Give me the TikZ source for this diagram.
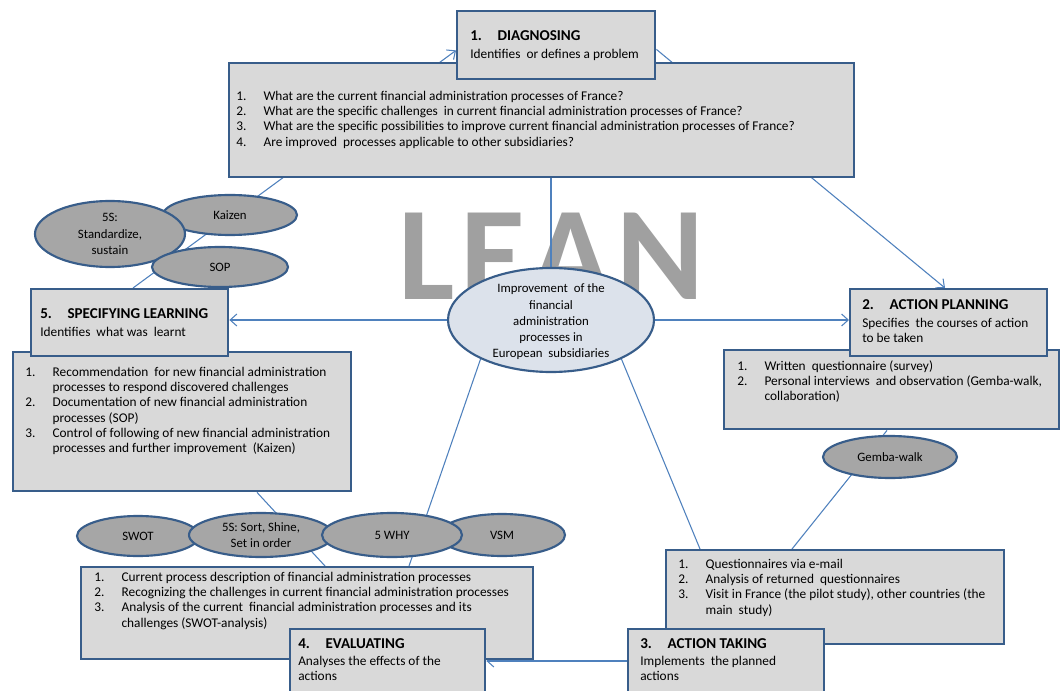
\documentclass[tikz,border=0pt]{standalone}
\usepackage{fontspec}
\setmainfont{Carlito}
\usetikzlibrary{arrows.meta,calc,shapes.geometric}
\pgfdeclarelayer{bg}
\pgfsetlayers{bg,main}

\definecolor{boxfill}{RGB}{217,217,217}
\definecolor{boxline}{RGB}{56,93,138}
\definecolor{ovalfill}{RGB}{166,166,166}
\definecolor{corefill}{RGB}{220,226,235}
\definecolor{linkblue}{RGB}{79,129,189}
\definecolor{leangray}{RGB}{160,160,160}

% numbered list helpers
\newcommand{\itm}[1]{\makebox[20.5pt][l]{#1}}
\newcommand{\blk}[1]{\begin{tabular}[t]{@{}l@{}}#1\end{tabular}}

\tikzset{
  panel/.style={rectangle, draw=boxline, line width=1.8pt, fill=boxfill, inner sep=0pt, anchor=north west},
  oval/.style={ellipse, draw=boxline, line width=1.6pt, fill=ovalfill, inner sep=0pt},
  otxt/.style={inner sep=0pt, align=center, font=\fontsize{9.6}{12.4}\selectfont},
  txt/.style={inner sep=0pt, anchor=base west, font=\fontsize{10}{11.4}\selectfont},
  head/.style={inner sep=0pt, anchor=base west, font=\fontsize{11.3}{13}\selectfont\bfseries},
  link/.style={draw=linkblue, line width=0.8pt},
  arr/.style={link, -{Straight Barb[length=5pt,width=9pt]}},
}

\begin{document}
\begin{tikzpicture}[x=0.75pt, y=-0.75pt]
\useasboundingbox (0,0) rectangle (1062,691);
\clip (0,0) rectangle (1062,691);

% 1. Diagnosing
\node[panel, minimum width={625*0.75pt}, minimum height={114*0.75pt}] (dd) at (228,62) {};
\node[txt] (dd-t) at (236,100.5) {\blk{\itm{1.}What are the current financial administration processes of France?\\
\itm{2.}What are the specific challenges\ \ in current financial administration processes of France?\\
\itm{3.}What are the specific possibilities to improve current financial administration processes of France?\\
\itm{4.}Are improved\ \ processes applicable to other subsidiaries?}};
\node[panel, minimum width={198*0.75pt}, minimum height={68*0.75pt}] (dg) at (456,10) {};
\node[head] (dg-h) at (470,41) {\itm{1.}DIAGNOSING};
\node[txt] (dg-s) at (470,59) {Identifies\ \ or defines a problem};

% 5. Specifying learning
\node[panel, minimum width={338*0.75pt}, minimum height={139*0.75pt}] (sd) at (12,351) {};
\node[txt] (sd-t) at (25,376.5) {\blk{\itm{1.}Recommendation\ \ for new financial administration\\
\itm{}processes to respond discovered challenges\\
\itm{2.}Documentation of new financial administration\\
\itm{}processes (SOP)\\
\itm{3.}Control of following of new financial administration\\
\itm{}processes and further improvement\ \ (Kaizen)}};
\node[panel, minimum width={197*0.75pt}, minimum height={67*0.75pt}] (sl) at (30,288) {};
\node[head] (sl-h) at (40,318) {\itm{5.}SPECIFYING LEARNING};
\node[txt] (sl-s) at (40,336) {Identifies\ \ what was\ \ learnt};

% 2. Action planning
\node[panel, minimum width={335*0.75pt}, minimum height={79*0.75pt}] (apd) at (723,349) {};
\node[txt] (apd-t) at (737,370.5) {\blk{\itm{1.}Written\ \ questionnaire (survey)\\
\itm{2.}Personal interviews\ \ and observation (Gemba-walk,\\
\itm{}collaboration)}};
\node[panel, minimum width={197*0.75pt}, minimum height={67*0.75pt}] (ap) at (849,288) {};
\node[head] (ap-h) at (862,310) {\itm{2.}ACTION PLANNING};
\node[txt] (ap-s) at (862,327) {\blk{Specifies\ \ the courses of action\\to be taken}};

% 3. Action taking
\node[panel, minimum width={338*0.75pt}, minimum height={94*0.75pt}] (atd) at (665,549) {};
\node[txt] (atd-t) at (678,568.5) {\blk{\itm{1.}Questionnaires via e-mail\\
\itm{2.}Analysis of returned\ \ questionnaires\\
\itm{3.}Visit in France (the pilot study), other countries (the\\
\itm{}main\ \ study)}};
\node[panel, minimum width={196*0.75pt}, minimum height={80*0.75pt}] (at) at (627,628) {};
\node[head] (at-h) at (640,648) {\itm{3.}ACTION TAKING};
\node[txt] (at-s) at (640,665) {\blk{Implements\ \ the planned\\actions}};

% 4. Evaluating
\node[panel, minimum width={452*0.75pt}, minimum height={92*0.75pt}] (ed) at (80,566) {};
\node[txt] (ed-t) at (94,581.5) {\blk{\itm{1.}Current process description of financial administration processes\\
\itm{2.}Recognizing the challenges in current financial administration processes\\
\itm{3.}Analysis of the current\ \ financial administration processes and its\\
\itm{}challenges (SWOT-analysis)}};
\node[panel, minimum width={195*0.75pt}, minimum height={80*0.75pt}] (ev) at (289,628) {};
\node[head] (ev-h) at (298,648) {\itm{4.}EVALUATING};
\node[txt] (ev-s) at (298,665) {\blk{Analyses the effects of the\\actions}};

% lean tools
\node[oval, minimum width={134*0.75pt}, minimum height={40*0.75pt}] (kz) at (230,215) {};
\node[otxt] (kz-t) at (kz) {Kaizen};
\node[oval, minimum width={150*0.75pt}, minimum height={66*0.75pt}] (s5a) at (110,234) {};
\node[otxt] (s5a-t) at (s5a) {5S:\\Standardize,\\sustain};
\node[oval, minimum width={136*0.75pt}, minimum height={40*0.75pt}] (sop) at (220,267) {};
\node[otxt] (sop-t) at (sop) {SOP};

\node[oval, minimum width={134*0.75pt}, minimum height={42*0.75pt}] (gw) at (890,457) {};
\node[otxt] (gw-t) at (gw) {Gemba-walk};

\node[oval, minimum width={122*0.75pt}, minimum height={40*0.75pt}] (swot) at (138,536) {};
\node[otxt] (swot-t) at (swot) {SWOT};
\node[oval, minimum width={144*0.75pt}, minimum height={44*0.75pt}] (s5b) at (261,535) {};
\node[otxt] (s5b-t) at (s5b) {5S: Sort, Shine,\\Set in order};
\node[oval, minimum width={126*0.75pt}, minimum height={42*0.75pt}] (vsm) at (502,535) {};
\node[otxt] (vsm-t) at (vsm) {VSM};
\node[oval, minimum width={140*0.75pt}, minimum height={44*0.75pt}] (why) at (392,535) {};
\node[otxt] (why-t) at (why) {5 WHY};

% core goal
\node[oval, fill=corefill, minimum width={206*0.75pt}, minimum height={104*0.75pt}] (ce) at (551,320) {};
\node[otxt, font=\fontsize{9.6}{12.2}\selectfont] (ce-t) at (551,322) {Improvement\ \ of the\\financial\\administration\\processes in\\European\ \ subsidiaries};

% watermark and connectors behind everything
\begin{pgfonlayer}{bg}
  \fill[white] (0,0) rectangle (1062,691);
  \node[anchor=base west, inner sep=0pt, text=leangray, font=\fontsize{100}{100}\selectfont\bfseries] (lean) at (398,300) {L\kern4pt E\kern4pt A\kern4pt N};
  \draw[arr] ($(sl.north west)+(103,0)$) -- ($(dg.south west)+(0,-30)$);
  \draw[arr] ($(dg.south east)+(0,-31)$) -- ($(ap.north west)+(96,0)$);
  \draw[link] ($(apd.south west)+(164,0)$) -- ($(atd.north west)+(127,0)$);
  \coordinate (h4) at ($(at.north west)+(0,33)$);
  \draw[arr] (h4) -- (h4 -| ev.east);
  \draw[link] ($(ed.north west)+(245,0)$) -- ($(sd.south west)+(245,0)$);
  \draw[link] (ce.north) -- (ce.north |- dd.south);
  \draw[arr] (ce.east) -- (ce.east -| ap.west);
  \draw[arr] (ce.west) -- (ce.west -| sl.east);
  \draw[link] (ce.209) -- ($(ed.north west)+(329,0)$);
  \draw[link] (ce.-29) -- ($(atd.north west)+(35,0)$);
\end{pgfonlayer}
\end{tikzpicture}
\end{document}
